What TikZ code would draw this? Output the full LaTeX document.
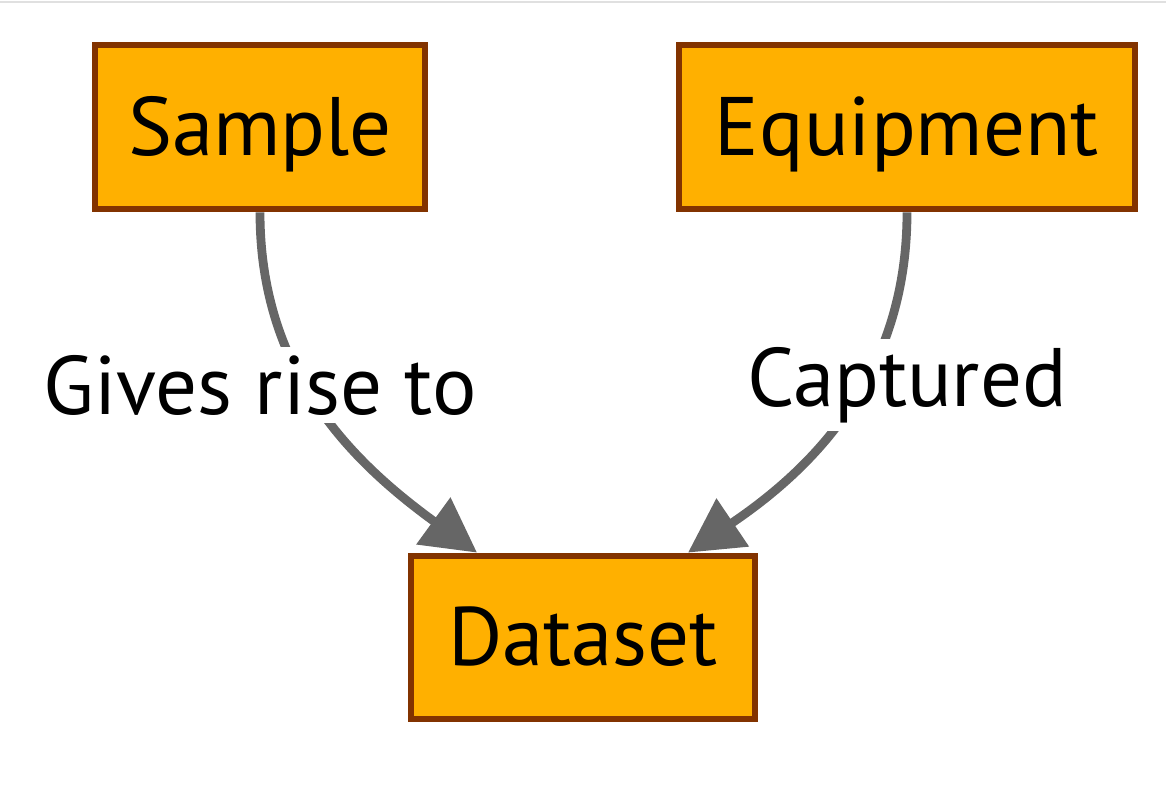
\documentclass[tikz,border=0pt]{standalone}
\usepackage{fontspec}
\setmainfont{PT Sans}
\usepackage{xcolor}
\usepackage{tikz}
\usetikzlibrary{
    shapes,
    positioning,
    calc,
    arrows.meta
}
\definecolor{boxfill}{HTML}{FFB000}
\definecolor{boxline}{HTML}{823300}
\definecolor{edgegray}{HTML}{666666}
\tikzset{
  entity/.style = {
      draw=boxline,
      line width=3.4pt,
      fill=boxfill,
      rectangle,
      inner sep=0pt,
      minimum height=82pt,
      text height=34pt,
      text depth=6pt,
      font=\fontsize{41.5}{48}\selectfont,
      align=center
  },
  relation/.style = {
      draw=edgegray,
      line width=4.4pt,
      -{Triangle[length=27pt,width=28pt]}
  },
  edgelabel/.style = {
      fill=white,
      inner sep=4pt,
      font=\fontsize{41.5}{48}\selectfont
  }
}
\begin{document}
\begin{tikzpicture}[x=0.5pt,y=-0.5pt]
    \useasboundingbox (0,0) rectangle (1166,803);
    \draw[color=black!12, line width=0.6pt] (0,2) -- (1166,2);
    % Nodes
    \node[entity, minimum width=165pt] (sample) at (260,127) {Sample};
    \node[entity, minimum width=228pt] (equipment) at (907,127) {Equipment};
    \node[entity, minimum width=172pt, minimum height=81.5pt] (dataset) at (583,637.5) {Dataset};
    % Edges
    \draw[relation] (sample.south) to[out=-90, in=144] ([xshift=-53pt]dataset.north);
    \draw[relation] (equipment.south) to[out=-90, in=34] ([xshift=52.5pt]dataset.north);
    % Labels
    \node[edgelabel] (giveslabel) at (260,385) {Gives rise to};
    \node[edgelabel] (capturedlabel) at (907,385) {Captured};
\end{tikzpicture}
\end{document}
